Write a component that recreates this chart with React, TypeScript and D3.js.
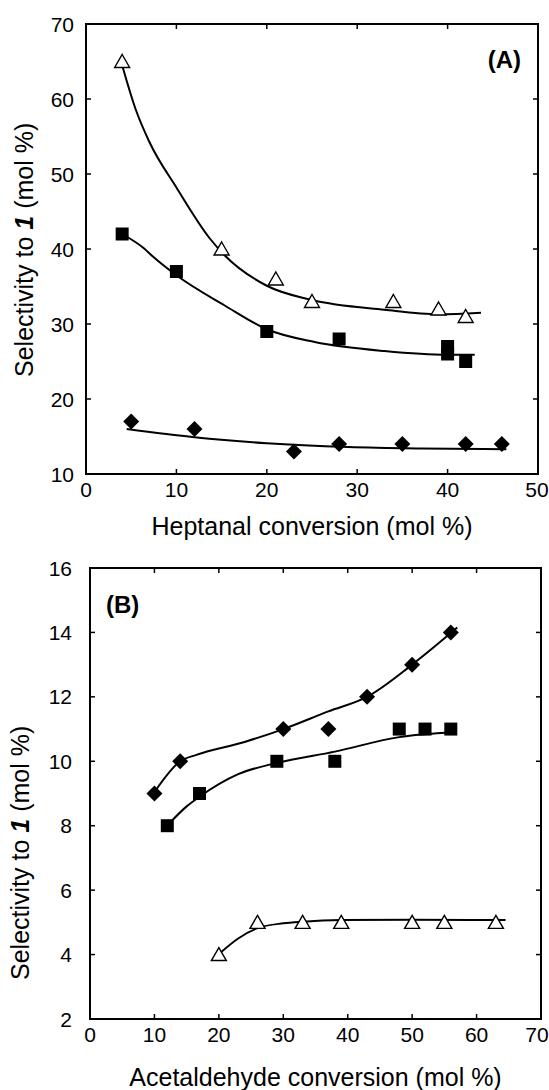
import React from 'react'
import * as d3 from 'd3'

// panel A: heptanal
const triA = [[4, 65], [15, 40], [21, 36], [25, 33], [34, 33], [39, 32], [42, 31]]
const sqA = [[4, 42], [10, 37], [20, 29], [28, 28], [40, 27], [40, 26], [42, 25]]
const diaA = [[5, 17], [12, 16], [23, 13], [28, 14], [35, 14], [42, 14], [46, 14]]
const triFitA = [[4, 64.5], [5.5, 58.6], [7, 54.3], [10, 48.2], [13.7, 41.4], [15.3, 39.2], [20, 35.1], [25, 33.2], [33, 31.9], [39, 31.3], [43.7, 31.5]]
const sqFitA = [[4, 42], [6.4, 40.1], [7.4, 39], [10, 36.5], [15.3, 32.5], [20, 29.3], [25.3, 27.6], [33, 26.4], [40, 25.9], [43, 25.9]]
const diaFitA = [[4.5, 16], [12, 14.9], [20, 14.1], [29, 13.6], [37, 13.4], [46.5, 13.3]]

// panel B: acetaldehyde
const triB = [[20, 4], [26, 5], [33, 5], [39, 5], [50, 5], [55, 5], [63, 5]]
const sqB = [[12, 8], [17, 9], [29, 10], [38, 10], [48, 11], [52, 11], [56, 11]]
const diaB = [[10, 9], [14, 10], [30, 11], [37, 11], [43, 12], [50, 13], [56, 14]]
const triFitB = [[20.2, 4.05], [23, 4.5], [26, 4.82], [30, 4.97], [33, 5.02], [39, 5.07], [50, 5.08], [64.5, 5.07]]
const sqFitB = [[12.2, 8.05], [15, 8.6], [17, 8.9], [23, 9.6], [29, 9.95], [38, 10.3], [48, 10.75], [56.5, 10.9]]
const diaFitB = [[10.2, 9.1], [14, 10], [16.5, 10.2], [24, 10.6], [30, 11], [37, 11.55], [43, 12], [50, 13], [57, 14.15]]

const xTicksA = [0, 10, 20, 30, 40, 50]
const yTicksA = [10, 20, 30, 40, 50, 60, 70]
const xTicksB = [0, 10, 20, 30, 40, 50, 60, 70]
const yTicksB = [2, 4, 6, 8, 10, 12, 14, 16]

const font = '"Liberation Sans", Arial, sans-serif'

const Marker = ({kind, x, y}) => {
  if (kind === 'tri') {
    const s = 7.5
    return <path d={`M${x},${y - 7}L${x + s},${y + 6}L${x - s},${y + 6}Z`} fill="#fff" stroke="#000" strokeWidth={1.4}/>
  }
  if (kind === 'sq') {
    return <rect x={x - 6.5} y={y - 6.5} width={13} height={13} fill="#000"/>
  }
  const r = 8
  return <path d={`M${x},${y - r}L${x + r},${y}L${x},${y + r}L${x - r},${y}Z`} fill="#000"/>
}

const Panel = ({box, xDom, yDom, xTicks, yTicks, series, xTitle, tag, tagPos, yTitle, yLabelGap}) => {
  const x = d3.scaleLinear().domain(xDom).range([box.left, box.right])
  const y = d3.scaleLinear().domain(yDom).range([box.bottom, box.top])
  const line = d3.line().x(d => x(d[0])).y(d => y(d[1])).curve(d3.curveMonotoneX)
  const tl = 5
  return (
    <g fontFamily={font} fill="#000">
      <rect x={box.left} y={box.top} width={box.right - box.left} height={box.bottom - box.top}
        fill="none" stroke="#000" strokeWidth={2}/>
      {xTicks.map(t => (
        <g key={'x' + t}>
          <line x1={x(t)} x2={x(t)} y1={box.bottom} y2={box.bottom - tl} stroke="#000" strokeWidth={1.5}/>
          <line x1={x(t)} x2={x(t)} y1={box.top} y2={box.top + tl} stroke="#000" strokeWidth={1.5}/>
          <text x={Math.min(x(t), 537)} y={box.bottom + 23} fontSize={21} textAnchor="middle">{t}</text>
        </g>
      ))}
      {yTicks.map(t => (
        <g key={'y' + t}>
          <line x1={box.left} x2={box.left + tl} y1={y(t)} y2={y(t)} stroke="#000" strokeWidth={1.5}/>
          <line x1={box.right} x2={box.right - tl} y1={y(t)} y2={y(t)} stroke="#000" strokeWidth={1.5}/>
          <text x={box.left - yLabelGap} y={y(t) + 7.5} fontSize={21} textAnchor="end">{t}</text>
        </g>
      ))}
      {series.map((s, i) => (
        <path key={'f' + i} d={line(s.fit)} fill="none" stroke="#000" strokeWidth={2}/>
      ))}
      {series.map((s, i) => s.pts.map((p, j) => (
        <Marker key={i + '-' + j} kind={s.kind} x={x(p[0])} y={y(p[1])}/>
      )))}
      <text x={(box.left + box.right) / 2} y={xTitle.y} fontSize={25} textAnchor="middle">{xTitle.text}</text>
      <text transform={`translate(${yTitle.x},${yTitle.y}) rotate(-90)`} fontSize={25} textAnchor="start">
        Selectivity to <tspan fontWeight="bold" fontStyle="italic">1</tspan> (mol %)
      </text>
      <text x={tagPos.x} y={tagPos.y} fontSize={24} fontWeight="bold" textAnchor={tagPos.anchor}>{tag}</text>
    </g>
  )
}

const App = () => {
  return (
    <svg width={549} height={1090} style={{position: 'absolute', left: 0, top: 0, background: '#fff'}}>
      <rect width={549} height={1090} fill="#fff"/>
      <Panel
        box={{left: 86, right: 538, top: 24, bottom: 474}}
        xDom={[0, 50]} yDom={[10, 70]}
        xTicks={xTicksA} yTicks={yTicksA}
        series={[
          {kind: 'tri', pts: triA, fit: triFitA},
          {kind: 'sq', pts: sqA, fit: sqFitA},
          {kind: 'dia', pts: diaA, fit: diaFitA},
        ]}
        xTitle={{text: 'Heptanal conversion (mol %)', y: 535}}
        yTitle={{x: 33, y: 377}}
        yLabelGap={12}
        tag="(A)" tagPos={{x: 521, y: 68, anchor: 'end'}}
      />
      <Panel
        box={{left: 90, right: 541, top: 568, bottom: 1019}}
        xDom={[0, 70]} yDom={[2, 16]}
        xTicks={xTicksB} yTicks={yTicksB}
        series={[
          {kind: 'tri', pts: triB, fit: triFitB},
          {kind: 'sq', pts: sqB, fit: sqFitB},
          {kind: 'dia', pts: diaB, fit: diaFitB},
        ]}
        xTitle={{text: 'Acetaldehyde conversion (mol %)', y: 1086}}
        yTitle={{x: 29, y: 980}}
        yLabelGap={18}
        tag="(B)" tagPos={{x: 106, y: 613, anchor: 'start'}}
      />
    </svg>
  )
}

export default App
